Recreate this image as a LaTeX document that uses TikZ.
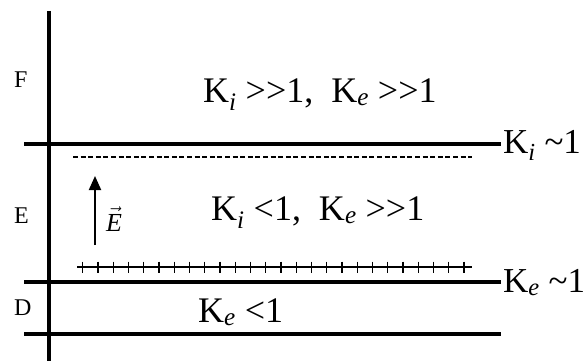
\documentclass[tikz,border=0pt]{standalone}
\usepackage{fontspec}
\setmainfont{Liberation Serif}[Ligatures=NoCommon]
\usetikzlibrary{arrows.meta}
\newcommand{\Ksub}[1]{K\textsubscript{\textit{#1}}}
\newcommand{\mygg}{\textgreater\kern0pt\textgreater}
\begin{document}
\begin{tikzpicture}[x=1pt,y=-1pt,
  thick line/.style={line width=3.6pt},
  big/.style={font=\fontsize{36}{36}\selectfont, inner sep=0pt},
  side/.style={font=\fontsize{35}{35}\selectfont, inner sep=0pt},
  small/.style={font=\fontsize{24}{24}\selectfont, inner sep=0pt}]
\useasboundingbox (0,0) rectangle (588,361);
% axis
\coordinate (atop) at (49,11);
\coordinate (abot) at (49,361);
\draw[thick line] (atop) -- (abot);
% boundaries
\coordinate (l1a) at (24,144); \coordinate (l1b) at (501,144);
\coordinate (l2a) at (24,282); \coordinate (l2b) at (501,282);
\coordinate (l3a) at (24,334); \coordinate (l3b) at (501,334);
\draw[thick line] (l1a) -- (l1b);
\draw[thick line] (l2a) -- (l2b);
\draw[thick line] (l3a) -- (l3b);
% dashed line
\coordinate (da) at (73,157); \coordinate (db) at (472,157);
\draw[line width=1.5pt, dash pattern=on 5pt off 2.6pt] (da) -- (db);
% plus line
\coordinate (pa) at (77,267); \coordinate (pb) at (472,267);
\draw[line width=1.4pt] (pa) -- (pb);
\foreach \i in {0,...,25} {
  \draw[line width=1.4pt] (82.7+15.25*\i,261.5) -- (82.7+15.25*\i,272.5);
}
% field arrow
\coordinate (ea) at (95,245); \coordinate (eb) at (95,176);
\draw[line width=2pt, -{Triangle[length=14pt,width=12pt]}] (ea) -- (eb);
\node[font=\fontsize{26}{26}\selectfont, inner sep=0pt, anchor=base west] (evec) at (106,231) {$\vec{\mbox{\textit{E}}}$};
% region labels
\node[small, anchor=base west] (F) at (14,87) {F};
\node[small, anchor=base west] (E) at (14,223) {E};
\node[small, anchor=base west] (D) at (14,315) {D};
% texts
\node[big, anchor=base west] (t1) at (203,102) {\Ksub{i} \mygg1,\ \ \Ksub{e} \mygg1};
\node[big, anchor=base west] (t2) at (211,220) {\Ksub{i} \textless1,\ \ \Ksub{e} \mygg1};
\node[big, anchor=base west] (t3) at (198,322) {\Ksub{e} \textless1};
\node[side, anchor=base west] (t4) at (503,153) {\Ksub{i} \textasciitilde1};
\node[side, anchor=base west] (t5) at (503,292) {\Ksub{e} \textasciitilde1};
\end{tikzpicture}
\end{document}
